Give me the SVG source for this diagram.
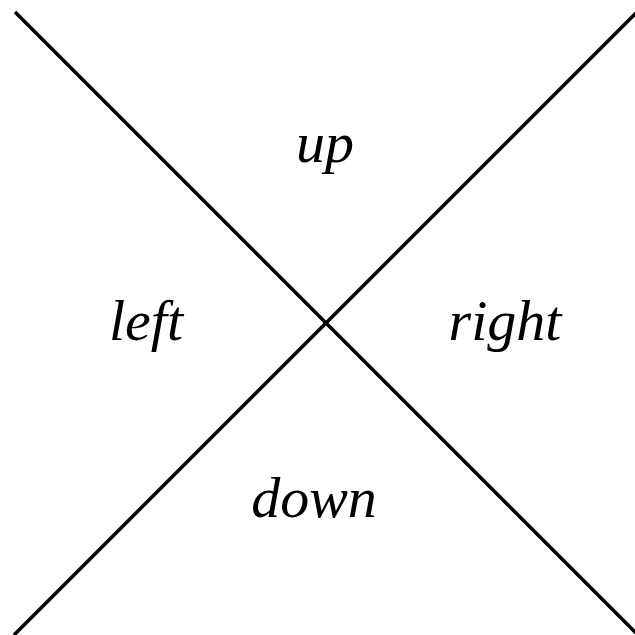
<svg xmlns="http://www.w3.org/2000/svg" width="635" height="635" viewBox="0 0 635 635">
<style>
.ln{stroke:#000;stroke-width:3.5;fill:none}
.lb{font-family:"Liberation Serif","Times New Roman",serif;font-style:italic;font-size:58px;fill:#000;text-anchor:middle}
</style>
<rect width="635" height="635" fill="#fff"/>
<g id="connectors">
<line class="ln" x1="15" y1="12" x2="638" y2="635"/>
<line class="ln" x1="14" y1="635" x2="638" y2="11"/>
</g>
<g id="up"><text class="lb" x="325" y="162">up</text></g>
<g id="left"><text class="lb" x="146" y="340">left</text></g>
<g id="right"><text class="lb" x="505" y="340">right</text></g>
<g id="down"><text class="lb" x="314" y="517">down</text></g>
</svg>
